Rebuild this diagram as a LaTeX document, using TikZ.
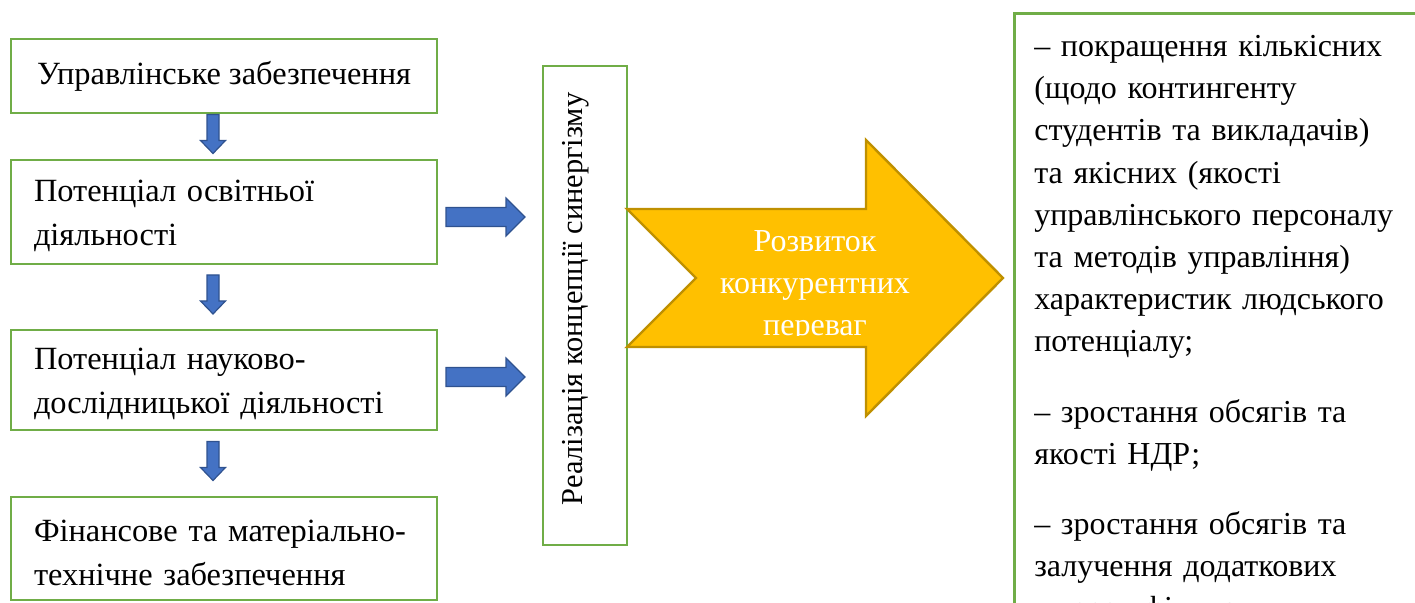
\documentclass[tikz,border=0pt]{standalone}
\usepackage{fontspec}
\setmainfont{Liberation Serif}
\usetikzlibrary{positioning,calc}
\definecolor{boxgreen}{RGB}{112,173,71}
\definecolor{arrowblue}{RGB}{68,114,196}
\definecolor{arrowblueline}{RGB}{47,82,143}
\definecolor{advgold}{RGB}{255,192,0}
\definecolor{advgoldline}{RGB}{191,144,0}
\tikzset{
    block/.style={rectangle, draw=boxgreen, line width=1.3pt, fill=white, minimum width=213pt, inner xsep=11.5pt, font=\fontsize{16.2}{22}\selectfont},
    leftblock/.style={block, align=left, text width=190pt, text height=15pt},
    bluearrow/.style={fill=arrowblue, draw=arrowblueline, line width=0.6pt},
    bigarrow/.style={fill=advgold, draw=advgoldline, line width=1.2pt},
    advtext/.style={align=center, text=white, font=\fontsize{16}{21}\selectfont},
    results/.style={block, anchor=north west, align=left, text width=200pt, inner xsep=10pt, inner ysep=11pt, font=\fontsize{16}{21.1}\selectfont}
}

\begin{document}
\begin{tikzpicture}[x=0.5pt, y=-0.5pt]
    % Canvas
    \useasboundingbox (0,0) rectangle (1415,603);
    \clip (0,0) rectangle (1415,603);

    % Block centres
    \coordinate (p1) at (224,76);
    \coordinate (p2) at (224,212);
    \coordinate (p3) at (224,380);
    \coordinate (p4) at (224,548.5);

    % Left column
    \node[block, align=center, minimum height=37pt] at (p1) (mgmt) {Управлінське забезпечення};
    \node[leftblock, minimum height=52pt] at (p2) (edu) {Потенціал освітньої\\діяльності};
    \node[leftblock, minimum height=50pt] at (p3) (sci) {Потенціал науково-\\дослідницької діяльності};
    \node[leftblock, minimum height=51.5pt] at (p4) (fin) {Фінансове та матеріально-\\технічне забезпечення};

    % Down arrows
    \foreach \a/\b in {mgmt/edu, edu/sci, sci/fin} {
        \coordinate (c) at ($(\a.south)!0.5!(\b.north)+(-11,-2.5)$);
        \filldraw[bluearrow] (c) ++(-6,-19.5) -- ++(0,26) -- ++(-6.5,0) -- ++(12.5,13) -- ++(12.5,-13) -- ++(-6.5,0) -- ++(0,-26) -- cycle;
    }

    % Synergy
    \node[block, minimum width=42pt, minimum height=239.5pt] at (585,305.5) (synergy) {};
    \node[rotate=90, font=\fontsize{15.2}{21}\selectfont] at (575.5,299) (synergytext) {Реалізація концепції синергізму};

    % Right arrows
    \foreach \b/\dy in {edu/5, sci/-3} {
        \coordinate (c) at ($(\b.east)!0.5!(\b.east -| synergy.west)+(-4.5,\dy)$);
        \filldraw[bluearrow] (c) ++(-39.5,-9.5) -- ++(60,0) -- ++(0,-9.5) -- ++(19,19) -- ++(-19,19) -- ++(0,-9.5) -- ++(-60,0) -- cycle;
    }

    % Big arrow
    \filldraw[bigarrow] (627,209) -- (866,209) -- (866,140) -- (1003,278) -- (866,416) -- (866,347) -- (627,347) -- (696,278) -- cycle;
    \begin{scope}
        \clip (627,200) rectangle (1003,336);
        \node[advtext] at (815,286) (adv) {Розвиток\\конкурентних\\переваг};
    \end{scope}

    % Results
    \node[results] at (1013,12) (res) {%
        – покращення кількісних\\
        (щодо контингенту\\
        студентів та викладачів)\\
        та якісних (якості\\
        управлінського персоналу\\
        та методів управління)\\
        характеристик людського\\
        потенціалу;\\[14pt]
        – зростання обсягів та\\
        якості НДР;\\[14pt]
        – зростання обсягів та\\
        залучення додаткових\\
        джерел фінансування};
\end{tikzpicture}
\end{document}
